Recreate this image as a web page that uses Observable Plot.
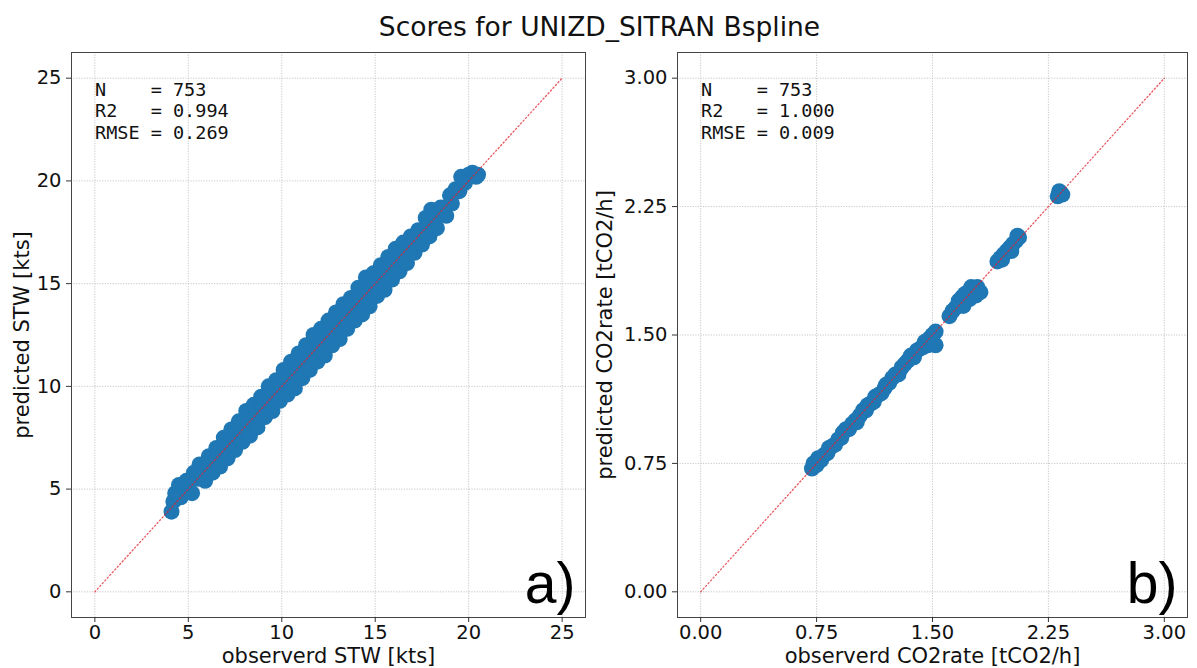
<!DOCTYPE html>
<html>
<head>
<meta charset="utf-8">
<script src="https://cdn.jsdelivr.net/npm/d3@7"></script>
<script src="https://cdn.jsdelivr.net/npm/@observablehq/plot@0.6"></script>
<style>
  html, body { margin: 0; padding: 0; background: #fff; }
  #title { box-sizing: border-box; width: 1197px; height: 48px; padding-top: 13.6px; font: 26.5px "DejaVu Sans", sans-serif; line-height: 1; text-align: center; color: #111; padding-left: 2px; }
  #row { display: flex; width: 1197px; }
  svg text { white-space: pre; }
</style>
</head>
<body>
<div id="title">Scores for UNIZD_SITRAN Bspline</div>
<div id="row"></div>
<script>
// ---- data ----
const stwObserved = [4.1,4.2,4.3,4.5,4.6,4.9,5.0,5.2,5.3,5.5,5.6,5.8,5.9,
  6.1,6.2,6.3,6.5,6.6,6.7,6.9,7.0,7.1,7.3,7.4,7.5,7.7,7.8,7.9,8.1,8.2,8.3,8.5,8.6,8.7,8.9,9.0,9.1,
  9.3,9.4,9.5,9.7,9.8,9.9,10.1,10.2,10.3,10.5,10.6,10.7,10.9,11.0,11.1,11.3,11.4,11.5,11.7,11.8,11.9,
  12.1,12.2,12.3,12.5,12.6,12.7,12.9,13.0,13.1,13.3,13.4,13.5,13.7,13.8,13.9,14.1,14.2,14.3,14.5,14.6,14.7,
  14.9,15.0,15.1,15.3,15.4,15.5,15.7,15.8,15.9,16.1,16.2,16.3,16.5,16.6,16.7,16.9,17.0,17.1,17.3,17.4,17.5,
  17.7,17.8,17.9,18.0,18.2,18.3,18.5,18.7,18.8,19.0,19.1,19.3,19.5,19.6,19.8,20.0,20.2,20.4,20.5];
const stwPredicted = [3.9,4.4,4.8,5.2,4.6,5.4,5.0,4.8,5.8,5.5,6.2,6.0,5.4,
  6.6,6.1,5.8,7.0,6.5,6.1,7.5,7.0,6.5,7.9,7.3,6.9,8.3,7.8,7.3,8.8,8.2,7.6,9.1,8.6,8.0,9.5,9.0,8.5,
  10.0,9.4,8.8,10.3,9.8,9.3,10.8,10.2,9.6,11.2,10.6,9.9,11.6,11.0,10.4,12.0,11.4,10.8,12.5,11.8,11.2,
  12.8,12.2,11.5,13.2,12.6,12.0,13.6,13.0,12.3,14.0,13.4,12.8,14.3,13.8,13.2,14.8,14.2,13.5,15.3,14.6,13.9,
  15.5,15.0,14.4,15.9,15.4,14.7,16.3,15.8,15.2,16.7,16.2,15.6,17.0,16.6,16.0,17.3,17.0,16.5,17.6,17.3,16.9,
  18.2,17.8,17.3,18.6,18.2,17.7,18.7,18.7,18.3,19.3,18.9,19.6,19.5,20.2,19.9,20.3,20.4,20.2,20.3];

const co2Observed = [0.72,0.73,0.75,0.76,0.78,0.80,0.82,0.83,0.85,0.87,0.89,0.91,0.92,0.94,0.96,0.98,1.00,1.01,1.03,1.05,1.07,1.08,1.10,1.12,1.13,1.15,1.17,1.19,1.20,1.22,1.24,1.26,1.28,1.30,1.32,1.34,1.36,1.38,1.40,1.42,1.44,1.45,1.47,1.48,1.50,1.52,1.52,1.50,
  1.61,1.63,1.65,1.67,1.69,1.71,1.73,1.75,1.77,1.79,1.81,1.78,1.74,1.70,
  1.92,1.94,1.96,1.98,2.00,2.02,2.04,2.06,1.95,2.01,2.05,
  2.31,2.33,2.34,2.32];
const co2Predicted = [0.72,0.75,0.74,0.78,0.77,0.80,0.81,0.84,0.85,0.86,0.89,0.90,0.93,0.95,0.95,0.98,1.00,0.99,1.03,1.06,1.06,1.09,1.10,1.11,1.14,1.15,1.16,1.19,1.21,1.22,1.25,1.27,1.27,1.31,1.33,1.35,1.38,1.37,1.41,1.42,1.43,1.46,1.44,1.48,1.50,1.52,1.44,1.47,
  1.61,1.64,1.66,1.70,1.72,1.74,1.75,1.78,1.76,1.78,1.75,1.73,1.71,1.67,
  1.93,1.95,1.97,1.99,2.01,2.03,2.05,2.07,1.94,1.99,2.08,
  2.31,2.33,2.32,2.34];

const stwTicks = [0, 5, 10, 15, 20, 25];
const co2Ticks = [0, 0.75, 1.5, 2.25, 3];
const stwDiagonal = [0, 25];
const co2Diagonal = [0, 3];

const statNames = ["N", "R2", "RMSE"];
const stwStats = ["753", "0.994", "0.269"];
const co2Stats = ["753", "1.000", "0.009"];

const stwLabels = {x: "observerd STW [kts]", y: "predicted STW [kts]", panel: "a)"};
const co2Labels = {x: "observerd CO2rate [tCO2/h]", y: "predicted CO2rate [tCO2/h]", panel: "b)"};

// ---- drawing ----
function statText(values) {
  return statNames.map((n, i) => n.padEnd(4, " ") + " = " + values[i]).join("\n");
}

function panel({obs, pred, ticks, diag, domain, fmt, stats, labels, width, marginLeft, marginRight, yLabelDx}) {
  const gridStyle = {stroke: "#c2c2c2", strokeOpacity: 1, strokeWidth: 0.9, strokeDasharray: "1.2,1.4"};
  return Plot.plot({
    width, height: 620,
    marginTop: 4, marginBottom: 51, marginLeft, marginRight,
    style: {fontFamily: "DejaVu Sans, sans-serif", fontSize: "19.5px", color: "#111", background: "#fff", overflow: "visible"},
    x: {domain, ticks, tickFormat: fmt},
    y: {domain, ticks, tickFormat: fmt},
    marks: [
      Plot.gridX(ticks, {...gridStyle}),
      Plot.gridY(ticks, {...gridStyle}),
      Plot.dot(obs, {x: obs, y: pred, r: 8, fill: "#1f77b4", stroke: "none"}),
      Plot.line(diag, {x: diag, y: diag, stroke: "#e3202b", strokeWidth: 1.3, strokeDasharray: "1.3,2.4", strokeOpacity: 0.75}),
      Plot.frame({stroke: "#444", strokeWidth: 1}),
      Plot.axisX({ticks, tickFormat: fmt, tickSize: 5, tickPadding: 3, label: null, stroke: "#333", fontSize: 19.5}),
      Plot.axisY({ticks, tickFormat: fmt, tickSize: 5, tickPadding: 5, label: null, stroke: "#333", fontSize: 19.5}),
      Plot.text([statText(stats)], {frameAnchor: "top-left", dx: 23.5, dy: 27.5, lineAnchor: "top", textAnchor: "start", fontFamily: "DejaVu Sans Mono, monospace", fontSize: 18.5, lineHeight: 1.18, fill: "#111"}),
      Plot.text([labels.panel], {frameAnchor: "bottom-right", dx: -10, dy: -54.5, lineAnchor: "top", textAnchor: "end", fontFamily: "Liberation Sans, Arial, sans-serif", fontSize: 57, fill: "#000"}),
      Plot.text([labels.x], {frameAnchor: "bottom", dy: 30.5, lineAnchor: "top", textAnchor: "middle", fontSize: 21, fill: "#111"}),
      Plot.text([labels.y], {frameAnchor: "left", dx: yLabelDx, rotate: -90, lineAnchor: "top", textAnchor: "middle", fontSize: 21, fill: "#111"})
    ]
  });
}

const row = document.getElementById("row");
row.append(panel({
  obs: stwObserved, pred: stwPredicted, ticks: stwTicks, diag: stwDiagonal,
  domain: [-1.25, 26.25], fmt: d3.format("d"), stats: stwStats, labels: stwLabels,
  width: 590, marginLeft: 71, marginRight: 5, yLabelDx: -57.3
}));
row.append(panel({
  obs: co2Observed, pred: co2Predicted, ticks: co2Ticks, diag: co2Diagonal,
  domain: [-0.15, 3.15], fmt: d3.format(".2f"), stats: co2Stats, labels: co2Labels,
  width: 607, marginLeft: 87, marginRight: 10, yLabelDx: -80.7
}));
</script>
</body>
</html>
